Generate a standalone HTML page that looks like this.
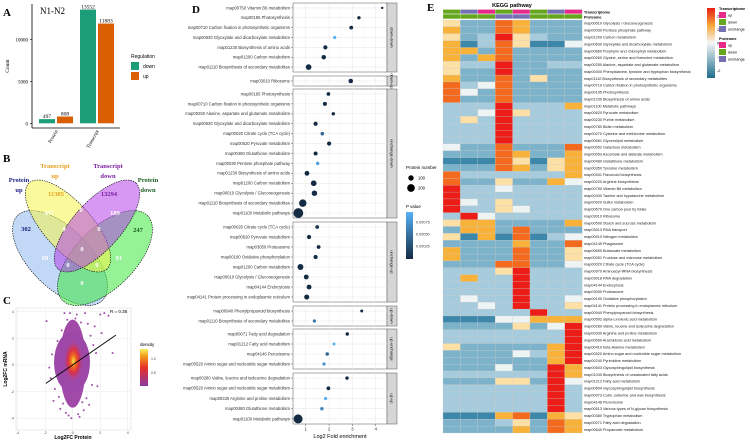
<!DOCTYPE html>
<html><head><meta charset="utf-8"><style>
body{margin:0;background:#fff}
svg{display:block;font-family:"Liberation Sans",sans-serif}
.serif{font-family:"Liberation Serif",serif}
</style></head><body>
<svg id="fig" width="750" height="440" viewBox="0 0 750 440" xmlns="http://www.w3.org/2000/svg">
<defs>
<linearGradient id="pgrad" x1="0" y1="1" x2="0" y2="0"><stop offset="0" stop-color="#132b43"/><stop offset="1" stop-color="#56b1f7"/></linearGradient>
<linearGradient id="dgrad" x1="0" y1="1" x2="0" y2="0"><stop offset="0" stop-color="#8a3aa0"/><stop offset="0.5" stop-color="#e8302a"/><stop offset="0.8" stop-color="#f39a1c"/><stop offset="1" stop-color="#f8f060"/></linearGradient>
<linearGradient id="hgrad" x1="0" y1="1" x2="0" y2="0"><stop offset="0" stop-color="#1f6e8c"/><stop offset="0.5" stop-color="#f3f6f6"/><stop offset="0.75" stop-color="#f7a83a"/><stop offset="1" stop-color="#e81d16"/></linearGradient>
<radialGradient id="core"><stop offset="0" stop-color="#f8e850"/><stop offset="0.25" stop-color="#f0701c"/><stop offset="0.55" stop-color="#d83048"/><stop offset="1" stop-color="#a24aa8" stop-opacity="0"/></radialGradient>
</defs>
<g id="pA"></g>
<g id="pB"></g>
<g id="pC"></g>
<g id="pD"></g>
<g id="pE"></g>
</svg>
<script>
// ---------- Panel A data ----------
const aGroups = ["Protein","Transcript"];
const aDown = [497, 13552];
const aUp = [808, 11883];
const aTicks = [0, 5000, 10000];
// ---------- Panel C data ----------
const cPx = [-1.9,-1.6,-1.4,-1.2,-1.1,-0.9,-0.8,-0.6,-1.5,-1.3,-1.0,0.9,1.1,1.3,1.5,1.7,2.0,2.3,2.6,2.9,1.0,1.2,1.4,0.8,-0.3,-0.5,0.4,0.6,-0.2,0.2,-0.7,0.7,1.8,-1.7,0.5,-0.4,1.6,2.1,-0.1,0.3];
const cPy = [3.3,-1.0,-2.7,-0.5,1.8,-3.3,2.6,3.9,0.8,-1.8,-2.4,3.9,3.1,2.2,1.5,0.9,3.8,3.9,3.7,0.9,-2.5,-3.0,-1.5,-3.4,-3.8,-3.6,-3.7,3.2,3.9,3.5,-2.9,-2.8,-1.6,-0.2,-3.9,3.4,2.9,2.4,-4.0,3.8];
const cTicks = [-4,-2,0,2,4];
const cLine = [[-1.95,-1.38],[3.14,2.25]];
// ---------- Panel D data ----------
const dFacets = ["down-down","down-up","unchange-down","unchange-up","up-down","up-unchange","up-up"];
const dLabels = [
["map00750 Vitamin B6 metabolism","map00195 Photosynthesis","map00710 Carbon fixation in photosynthetic organisms","map00630 Glyoxylate and dicarboxylate metabolism","map01230 Biosynthesis of amino acids","map01200 Carbon metabolism","map01110 Biosynthesis of secondary metabolites"],
["map03010 Ribosome"],
["map00195 Photosynthesis","map00710 Carbon fixation in photosynthetic organisms","map00250 Alanine, aspartate and glutamate metabolism","map00630 Glyoxylate and dicarboxylate metabolism","map00020 Citrate cycle (TCA cycle)","map00620 Pyruvate metabolism","map00480 Glutathione metabolism","map00030 Pentose phosphate pathway","map01230 Biosynthesis of amino acids","map01200 Carbon metabolism","map00010 Glycolysis / Gluconeogenesis","map01110 Biosynthesis of secondary metabolites","map01100 Metabolic pathways"],
["map00020 Citrate cycle (TCA cycle)","map00620 Pyruvate metabolism","map03050 Proteasome","map00190 Oxidative phosphorylation","map01200 Carbon metabolism","map00010 Glycolysis / Gluconeogenesis","map04144 Endocytosis","map04141 Protein processing in endoplasmic reticulum"],
["map00940 Phenylpropanoid biosynthesis","map01110 Biosynthesis of secondary metabolites"],
["map00071 Fatty acid degradation","map01212 Fatty acid metabolism","map04146 Peroxisome","map00520 Amino sugar and nucleotide sugar metabolism"],
["map00280 Valine, leucine and isoleucine degradation","map00520 Amino sugar and nucleotide sugar metabolism","map00330 Arginine and proline metabolism","map00480 Glutathione metabolism","map01100 Metabolic pathways"]];
const dFold = [[4.28,3.28,2.95,2.24,1.84,1.77,1.12],[2.93],[1.97,1.82,2.18,1.42,1.71,2.0,1.42,1.51,1.05,1.34,1.37,0.87,0.68],[1.49,1.14,1.55,1.42,0.77,1.02,1.14,1.04],[3.4,1.37],[2.78,2.21,1.92,1.78],[2.77,1.97,1.85,1.69,0.67]];
const dCount = [[20,40,50,35,60,70,110],[70],[45,55,40,60,45,60,55,40,80,110,100,190,330],[50,60,50,60,120,80,80,90],[30,35],[40,30,40,35],[40,50,35,40,280]];
const dP = [[0.0,0.0,0.0,0.0009,0.0,0.0,0.0],[0.0],[0.0,0.0,0.0,0.0,0.0004,0.0,0.0,0.0008,0.0,0.0,0.0,0.0,0.0],[0.0001,0.0,0.0,0.0,0.0,0.0,0.0,0.0],[0.0,0.0005],[0.0,0.0009,0.0004,0.0007],[0.0,0.0,0.0009,0.0006,0.0]];
const dTicks = [1,2,3,4];
// ---------- Panel E data ----------
const eRows = ["map00010 Glycolysis / Gluconeogenesis","map00030 Pentose phosphate pathway","map01200 Carbon metabolism","map00630 Glyoxylate and dicarboxylate metabolism","map00860 Porphyrin and chlorophyll metabolism","map00260 Glycine, serine and threonine metabolism","map00250 Alanine, aspartate and glutamate metabolism","map00400 Phenylalanine, tyrosine and tryptophan biosynthesis","map01110 Biosynthesis of secondary metabolites","map00710 Carbon fixation in photosynthetic organisms","map00195 Photosynthesis","map01230 Biosynthesis of amino acids","map01100 Metabolic pathways","map00620 Pyruvate metabolism","map00230 Purine metabolism","map00780 Biotin metabolism","map00270 Cysteine and methionine metabolism","map00561 Glycerolipid metabolism","map00052 Galactose metabolism","map00053 Ascorbate and aldarate metabolism","map00480 Glutathione metabolism","map00350 Tyrosine metabolism","map00941 Flavonoid biosynthesis","map00220 Arginine biosynthesis","map00750 Vitamin B6 metabolism","map00430 Taurine and hypotaurine metabolism","map00920 Sulfur metabolism","map00670 One carbon pool by folate","map03010 Ribosome","map00500 Starch and sucrose metabolism","map03013 RNA transport","map00910 Nitrogen metabolism","map04145 Phagosome","map00650 Butanoate metabolism","map00051 Fructose and mannose metabolism","map00020 Citrate cycle (TCA cycle)","map00970 Aminoacyl-tRNA biosynthesis","map03018 RNA degradation","map04144 Endocytosis","map03050 Proteasome","map00190 Oxidative phosphorylation","map04141 Protein processing in endoplasmic reticulum","map00940 Phenylpropanoid biosynthesis","map00592 alpha-Linolenic acid metabolism","map00280 Valine, leucine and isoleucine degradation","map00330 Arginine and proline metabolism","map00590 Arachidonic acid metabolism","map00410 beta-Alanine metabolism","map00520 Amino sugar and nucleotide sugar metabolism","map00240 Pyrimidine metabolism","map00603 Glycosphingolipid biosynthesis","map01040 Biosynthesis of unsaturated fatty acids","map01212 Fatty acid metabolism","map00604 Glycosphingolipid biosynthesis","map00073 Cutin, suberine and wax biosynthesis","map04146 Peroxisome","map00513 Various types of N-glycan biosynthesis","map00380 Tryptophan metabolism","map00071 Fatty acid degradation","map00640 Propanoate metabolism"];
const eCells = ["PMMOYMMM","YMMOYMMM","PMLRPLMM","YDLOPDDW","YYMOMMMM","YMYOMMMM","PLLRMMLL","PMMRMMMM","YMMOMPMM","OLWOMMMM","OWMOMMMM","OMMOMMMM","LLLRLLLY","LLWRPLLL","LPLRLLLL","LLLRLLLL","LLLRLLLL","LLLRLLLL","WMMOMMMO","MMMOYMMY","DDDOPDPY","MMMOYMPY","OLLLLLLY","OMMPMMYW","RLLWLLLL","RLLLLLLL","RWLPLLLL","RLLPWLLL","LRWLLLLL","PYYMMMMY","MYYMOMMM","PDYDODLW","MMMMYMMO","YMMMOMMP","YMMMOMMP","MMMOOMMW","LLLPRLLL","LYLLRLLL","LLLLRLLL","LLLLRLLL","LWLLRLLW","LLWLRLLP","LLLLLRLL","DDDWWYYY","MMMMPMWR","LLLLLLLR","LLLLLLLR","PMMMMMYR","MMMMWLYR","MMMMMMYR","MMMWMMRY","LLLLLLRY","MMMPPMRW","LLLLLLRL","LLLLLLRL","LLLLLLRL","LLLLLLRL","DDDYODYP","MMMLPMOY","MMMMYMOY"];
const eTrans = ["down","unchange","up","down","up","down","unchange","up"];
const eProt = ["down","down","down","unchange","unchange","down","down","down"];
const eScale = [2,1,0,-1,-2];
</script>
<script>
const NS="http://www.w3.org/2000/svg";
function mk(parent,tag,attrs,txt){const e=document.createElementNS(NS,tag);for(const k in attrs)e.setAttribute(k,attrs[k]);if(txt!==undefined)e.textContent=txt;parent.appendChild(e);return e;}
const fig=document.getElementById('fig');

// ===== Panel A =====
(function(){
const g=document.getElementById('pA');
let t=mk(g,'text',{x:3,y:16,'font-size':11,'font-weight':'bold',class:'serif'},'A');

const y=v=>123.3-v*0.008395;
mk(g,'line',{x1:32,y1:4,x2:32,y2:128,stroke:'#000','stroke-width':0.8});
mk(g,'line',{x1:32,y1:128,x2:120,y2:128,stroke:'#000','stroke-width':0.8});
aTicks.forEach(v=>{mk(g,'line',{x1:30,x2:32,y1:y(v),y2:y(v),stroke:'#000','stroke-width':0.6});
 const e=mk(g,'text',{x:28,y:y(v)+2,'font-size':5,'text-anchor':'end',class:'serif'},v);
 });
t=mk(g,'text',{x:9,y:66,'font-size':5.5,'text-anchor':'middle',transform:'rotate(-90 9 66)',class:'serif'},'Count');

t=mk(g,'text',{x:40,y:14,'font-size':9,class:'serif'},'N1-N2');

const gx=[39,80];
aGroups.forEach((n,i)=>{
 const x0=gx[i];
 let b=mk(g,'rect',{x:x0,y:y(aDown[i]),width:16,height:y(0)-y(aDown[i]),fill:'#1b9e77'});
 
 b=mk(g,'rect',{x:x0+18,y:y(aUp[i]),width:16,height:y(0)-y(aUp[i]),fill:'#d95f02'});
 
 let l=mk(g,'text',{x:x0+8,y:y(aDown[i])-1,'font-size':5.5,'text-anchor':'middle',class:'serif'},aDown[i]);
 
 l=mk(g,'text',{x:x0+26,y:y(aUp[i])-1,'font-size':5.5,'text-anchor':'middle',class:'serif'},aUp[i]);
 
 const cx=x0+17;
 l=mk(g,'text',{x:cx+2,y:131,'font-size':5,'text-anchor':'end',transform:`rotate(-60 ${cx+2} 131)`,class:'serif'},n);
 
});
t=mk(g,'text',{x:131,y:58,'font-size':5},'Regulation');

[['down','#1b9e77'],['up','#d95f02']].forEach((d,i)=>{
 const r=mk(g,'rect',{x:131,y:62+i*10,width:8,height:8,fill:d[1]});
 
 const e=mk(g,'text',{x:143,y:68+i*10,'font-size':5},d[0]);
 });
})();

// ===== Panel B =====
(function(){
const g=document.getElementById('pB');
let t=mk(g,'text',{x:3,y:162,'font-size':11,'font-weight':'bold',class:'serif'},'B');

const ells=[['protein-up',60,258,60,30,45,'#8fb8f0'],['protein-down',105,258,60,30,-45,'#3ee83e'],['transcript-up',68,226,58,24,48,'#f6f64a'],['transcript-down',97,226,58,24,-48,'#b444e8']];
ells.forEach(e=>{const el=mk(g,'ellipse',{cx:e[1],cy:e[2],rx:e[3],ry:e[4],transform:`rotate(${e[5]} ${e[1]} ${e[2]})`,fill:e[6],'fill-opacity':0.55,stroke:'#000','stroke-width':0.6,'stroke-dasharray':'1.5,1'});
 });
const nums=[[26,231,'302','#1a237e'],[56,196,'11385','#e6a020'],[109,196,'13294','#7b1fa2'],[138,232,'247','#1b5e20'],[49,215,'437','#fff'],[81,212,'0','#fff'],[115,215,'189','#fff'],[64,231,'0','#fff'],[99,231,'0','#fff'],[82,251,'0','#fff'],[45,260,'69','#fff'],[68,267,'0','#fff'],[97,267,'0','#fff'],[119,260,'91','#fff'],[82,285,'0','#fff']];
nums.forEach(n=>{const e=mk(g,'text',{x:n[0],y:n[1],'font-size':6.5,'font-weight':'bold','text-anchor':'middle',fill:n[3],class:'serif'},n[2]);
 });
const titles=[[19,182,'Protein','#1a237e'],[19,192,'up','#1a237e'],[55,168,'Transcript','#e6a020'],[55,178,'up','#e6a020'],[108,168,'Transcript','#7b1fa2'],[108,178,'down','#7b1fa2'],[148,182,'Protein','#1b5e20'],[148,192,'down','#1b5e20']];
titles.forEach(n=>{const e=mk(g,'text',{x:n[0],y:n[1],'font-size':6.5,'font-weight':'bold','text-anchor':'middle',fill:n[3],class:'serif'},n[2]);
 });
})();

// ===== Panel C =====
(function(){
const g=document.getElementById('pC');
let t=mk(g,'text',{x:3,y:304,'font-size':11,'font-weight':'bold',class:'serif'},'C');

const X=v=>72.7+v*13.75, Y=v=>365-v*13.3;
mk(g,'rect',{x:16,y:308,width:115,height:122,fill:'#fff',stroke:'#ccc','stroke-width':0.4});
cTicks.forEach(v=>{
 mk(g,'line',{x1:X(v),x2:X(v),y1:308,y2:430,stroke:'#e8e8e8','stroke-width':0.5});
 mk(g,'line',{x1:16,x2:131,y1:Y(v),y2:Y(v),stroke:'#e8e8e8','stroke-width':0.5});
 let e=mk(g,'text',{x:X(v),y:434,'font-size':3.5,'text-anchor':'middle',fill:'#444'},v);
 
 e=mk(g,'text',{x:14,y:Y(v)+1.2,'font-size':3.5,'text-anchor':'end',fill:'#444'},v);
 
});
let c=mk(g,'ellipse',{cx:X(0),cy:Y(0.1),rx:13,ry:44,fill:'#a24aa8'});

c=mk(g,'ellipse',{cx:X(-0.05),cy:Y(0.2),rx:18,ry:30,fill:'#9d48a8'});
c=mk(g,'ellipse',{cx:X(0.05),cy:Y(0.3),rx:10,ry:22,fill:'url(#core)'});

cPx.forEach((v,i)=>{const p=mk(g,'circle',{cx:X(v),cy:Y(cPy[i]),r:1,fill:'#a24aa8'});
 });
const ln=mk(g,'line',{x1:X(cLine[0][0]),y1:Y(cLine[0][1]),x2:X(cLine[1][0]),y2:Y(cLine[1][1]),stroke:'#000','stroke-width':0.9});

t=mk(g,'text',{x:110,y:313,'font-size':4.5},'R = 0.35');

t=mk(g,'text',{x:73,y:439,'font-size':5,'font-weight':'bold','text-anchor':'middle'},'Log2FC Protein');

t=mk(g,'text',{x:7,y:369,'font-size':5,'font-weight':'bold','text-anchor':'middle',transform:'rotate(-90 7 369)'},'Log2FC mRNA');

t=mk(g,'text',{x:140,y:346,'font-size':4.5},'density');

const r=mk(g,'rect',{x:140,y:349,width:8,height:37,fill:'url(#dgrad)'});

[['1.0',360],['0.5',374]].forEach(d=>{const e=mk(g,'text',{x:151,y:d[1],'font-size':3.5,fill:'#444'},d[0]);
 });
})();

// ===== Panel D =====
(function(){
const g=document.getElementById('pD');
let t=mk(g,'text',{x:192,y:13,'font-size':11,'font-weight':'bold',class:'serif'},'D');

const X=v=>282.5+v*23.3;
const L=293,R=387;
const fb=[[3,72],[76,86],[89,218],[222,302],[306,326],[329,369],[373,424]];
const col=p=>{const f=Math.min(p/0.0009,1);const a=[0x13,0x2b,0x43],b=[0x56,0xb1,0xf7];return `rgb(${a.map((c,i)=>Math.round(c+(b[i]-c)*f)).join(',')})`;};
dFacets.forEach((name,fi)=>{
 const [top,bot]=fb[fi];
 let pr=mk(g,'rect',{x:L,y:top,width:R-L,height:bot-top,fill:'#fff',stroke:'#555','stroke-width':0.5});
 
 dTicks.forEach(v=>mk(g,'line',{x1:X(v),x2:X(v),y1:top,y2:bot,stroke:'#e6e6e6','stroke-width':0.5}));
 [0.5,1.5,2.5,3.5].forEach(v=>mk(g,'line',{x1:X(v),x2:X(v),y1:top,y2:bot,stroke:'#f2f2f2','stroke-width':0.3}));
 const s=mk(g,'rect',{x:R,y:top,width:10,height:bot-top,fill:'#d6d6d6',stroke:'#555','stroke-width':0.5});
 
 const cy=(top+bot)/2;
 const st=mk(g,'text',{x:R+5,y:cy,'font-size':4,'text-anchor':'middle',transform:`rotate(90 ${R+5} ${cy}) translate(0 1.3)`},name);
 
 const n=dLabels[fi].length, step=(bot-top)/n;
 dLabels[fi].forEach((lab,i)=>{
  const y=top+(i+0.5)*step;
  mk(g,'line',{x1:L,x2:R,y1:y,y2:y,stroke:'#e6e6e6','stroke-width':0.5});
  mk(g,'line',{x1:L-2,x2:L,y1:y,y2:y,stroke:'#333','stroke-width':0.4});
  const e=mk(g,'text',{x:L-3,y:y+1.4,'font-size':4.2,'text-anchor':'end',fill:'#333'},lab);
  
  const p=mk(g,'circle',{cx:X(dFold[fi][i]),cy:y,r:0.27*Math.sqrt(dCount[fi][i]),fill:col(dP[fi][i])});
  
 });
});
dTicks.forEach(v=>{mk(g,'line',{x1:X(v),x2:X(v),y1:424,y2:426,stroke:'#333','stroke-width':0.4});
 const e=mk(g,'text',{x:X(v),y:430.5,'font-size':4.5,'text-anchor':'middle',fill:'#333'},v);
 });
t=mk(g,'text',{x:340,y:438,'font-size':5.5,'text-anchor':'middle'},'Log2 Fold enrichment');

t=mk(g,'text',{x:406,y:169,'font-size':4.5},'Protein number');

[[100,178],[200,188]].forEach(d=>{const c=mk(g,'circle',{cx:411,cy:d[1],r:0.27*Math.sqrt(d[0]),fill:'#000'});
 
 const e=mk(g,'text',{x:418,y:d[1]+1.5,'font-size':4.2},d[0]);
 });
t=mk(g,'text',{x:406,y:208,'font-size':4.5},'P value');

const r=mk(g,'rect',{x:406,y:212,width:7,height:47,fill:'url(#pgrad)'});

[['0.00075',222],['0.00050',234],['0.00025',246]].forEach(d=>{const e=mk(g,'text',{x:416,y:d[1]+1.3,'font-size':3.8,fill:'#333'},d[0]);
 });
})();

// ===== Panel E =====
(function(){
const g=document.getElementById('pE');
let t=mk(g,'text',{x:427,y:11,'font-size':11,'font-weight':'bold',class:'serif'},'E');

t=mk(g,'text',{x:512,y:7,'font-size':5.5,'font-weight':'bold','text-anchor':'middle'},'KEGG pathway');

const pal={R:'#ec1c16',O:'#f36a1e',Y:'#f8b23a',P:'#fde0a6',W:'#eef3f4',L:'#a6cbdc',M:'#7cb3cb',D:'#3d87aa'};
const ann={up:'#e7298a',down:'#66a61e',unchange:'#7570b3'};
const x0=443,cw=17.4,y0=20,rh=(433-20)/eRows.length;
eTrans.forEach((v,j)=>{const r=mk(g,'rect',{x:x0+j*cw,y:9.5,width:cw,height:4.3,fill:ann[v],stroke:'#fff','stroke-width':0.2});
 });
eProt.forEach((v,j)=>{const r=mk(g,'rect',{x:x0+j*cw,y:14.2,width:cw,height:4.6,fill:ann[v],stroke:'#fff','stroke-width':0.2});
 });
t=mk(g,'text',{x:584,y:13.5,'font-size':3.8,'font-weight':'bold'},'Transcriptome');

t=mk(g,'text',{x:584,y:18.5,'font-size':3.8,'font-weight':'bold'},'Proteome');

eRows.forEach((name,i)=>{
 const y=y0+i*rh;
 eCells[i].split('').forEach((c,j)=>{const r=mk(g,'rect',{x:x0+j*cw,y:y,width:cw,height:rh,fill:pal[c],stroke:'#c8c8c8','stroke-width':0.25});
  });
 const e=mk(g,'text',{x:584,y:y+rh/2+1.3,'font-size':3.8,fill:'#222'},name);
 
});
const cb=mk(g,'rect',{x:707,y:8,width:8,height:70,fill:'url(#hgrad)'});

eScale.forEach((v,i)=>{const y=16+i*13.7;const e=mk(g,'text',{x:717,y:y+1.3,'font-size':3.8},v);
 });
[['Transcriptome',10],['Proteome',40]].forEach(h=>{
 const e=mk(g,'text',{x:719,y:h[1],'font-size':3.8,'font-weight':'bold'},h[0]);
 
 ['up','down','unchange'].forEach((k,i)=>{const r=mk(g,'rect',{x:719,y:h[1]+2+i*7,width:7,height:6,fill:ann[k]});
  
  const l=mk(g,'text',{x:728,y:h[1]+6.5+i*7,'font-size':3.8},k);
  });
});
})();
</script>
</body></html>
